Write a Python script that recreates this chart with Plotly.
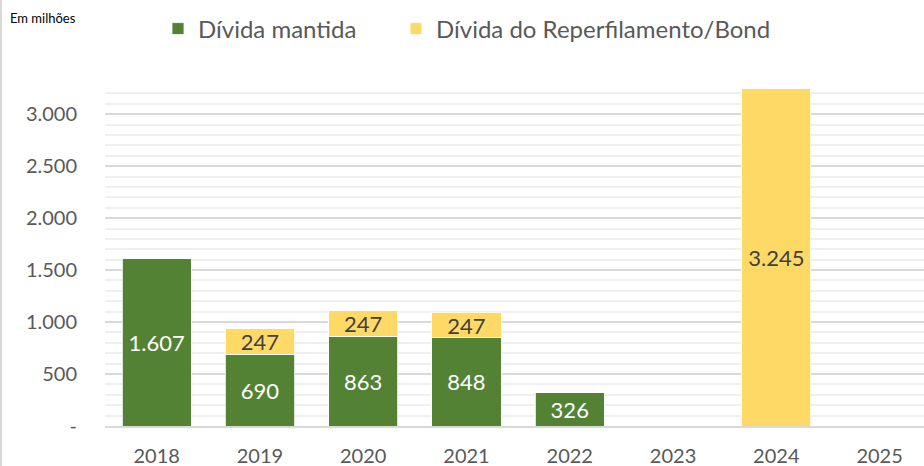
import plotly.graph_objects as go

years = ["2018", "2019", "2020", "2021", "2022", "2023", "2024", "2025"]
divida_mantida = [1607, 690, 863, 848, 326, 0, 0, 0]
divida_reperfil = [0, 247, 247, 247, 0, 0, 3245, 0]
y_tickvals = [0, 500, 1000, 1500, 2000, 2500, 3000]
y_ticktext = ["-", "500", "1.000", "1.500", "2.000", "2.500", "3.000"]

GREEN = "#548235"
YELLOW = "#FFD966"
FONT = "Lato, 'Open Sans', sans-serif"

W, H = 924, 466
ML, MR, MT, MB = 105, 0, 83, 40
PW = W - ML - MR
PH = H - MT - MB


def fmt(v):
    return f"{v:,}".replace(",", ".") if v else ""


fig = go.Figure()
fig.add_trace(go.Bar(
    x=years, y=divida_mantida, name="Dívida mantida", legend="legend",
    showlegend=True,
    marker=dict(color=GREEN, line=dict(color="white", width=0.8)),
    text=[fmt(v) for v in divida_mantida],
    textposition="inside", insidetextanchor="middle", textangle=0,
    constraintext="none",
    textfont=dict(color="white", size=22, family=FONT),
    hoverinfo="x+y",
))
fig.add_trace(go.Bar(
    x=years, y=divida_reperfil, name="Dívida do Reperfilamento/Bond", legend="legend2",
    showlegend=True,
    marker=dict(color=YELLOW, line=dict(color="white", width=0.8)),
    text=[fmt(v) for v in divida_reperfil],
    textposition="inside", insidetextanchor="middle", textangle=0,
    constraintext="none",
    textfont=dict(color="#404040", size=22, family=FONT),
    hoverinfo="x+y",
))

leg_common = dict(
    orientation="h", xref="container", yref="container",
    xanchor="left", y=1 - 29 / H, yanchor="middle",
    font=dict(size=24, color="#595959", family=FONT),
    itemclick=False, bgcolor="rgba(0,0,0,0)",
)

fig.update_layout(
    width=W, height=H,
    showlegend=True,
    margin=dict(l=ML, r=MR, t=MT, b=MB, pad=0, autoexpand=False),
    barmode="stack", bargap=0.33,
    plot_bgcolor="white", paper_bgcolor="white",
    font=dict(family=FONT, color="#595959"),
    separators=",.",
    legend=dict(x=158 / W, **leg_common),
    legend2=dict(x=396 / W, **leg_common),
    xaxis=dict(
        type="category", range=[-0.5, 7.43], automargin=False,
        showline=True, linecolor="#D9D9D9", linewidth=2,
        ticks="", tickfont=dict(size=20, color="#595959"),
        ticklabelstandoff=11, showgrid=False,
    ),
    yaxis=dict(
        range=[0, 3300], tickvals=y_tickvals, ticktext=y_ticktext,
        automargin=False,
        showgrid=True, gridcolor="#D9D9D9", gridwidth=1.5,
        minor=dict(dtick=100, tick0=0, showgrid=True, gridcolor="#EFEFEF", gridwidth=1.5),
        zeroline=False, ticks="", tickfont=dict(size=20, color="#595959"),
        ticklabelstandoff=27,
    ),
    annotations=[dict(
        text="Em milhões", xref="paper", yref="paper",
        x=(8 - ML) / PW, y=1 + (MT - 18) / PH, xanchor="left", yanchor="middle",
        showarrow=False, font=dict(size=13, color="#000000", family=FONT),
    )],
    shapes=[dict(
        type="line", xref="paper", yref="paper",
        x0=(1 - ML) / PW, x1=(1 - ML) / PW, y0=-MB / PH, y1=1 + MT / PH,
        line=dict(color="#D9D9D9", width=2),
    )],
)

fig.write_html(
    "out.html",
    config={"displayModeBar": False},
    post_script="document.body.style.margin='0';document.body.style.overflow='hidden';",
)
